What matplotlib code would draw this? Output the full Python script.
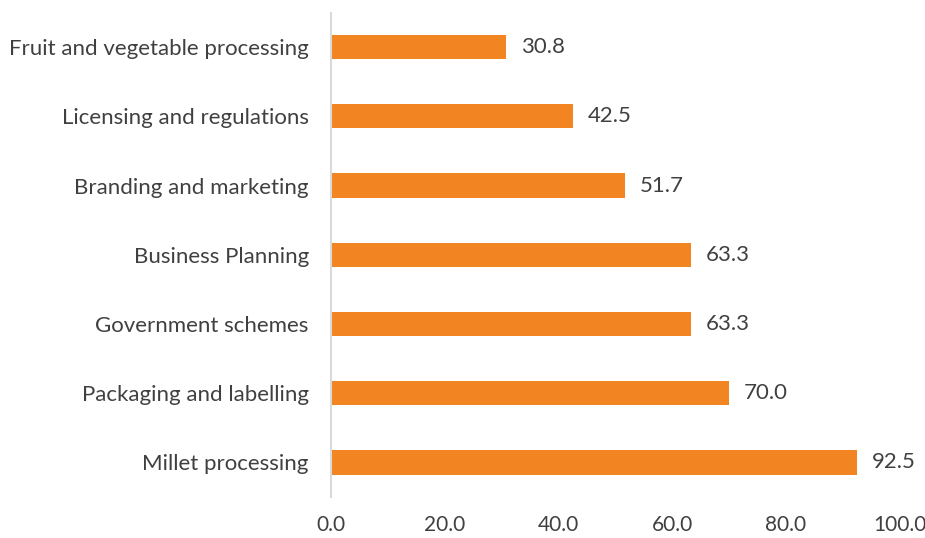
import matplotlib
matplotlib.use("Agg")
import matplotlib.pyplot as plt

categories = [
    "Fruit and vegetable processing",
    "Licensing and regulations",
    "Branding and marketing",
    "Business Planning",
    "Government schemes",
    "Packaging and labelling",
    "Millet processing",
]
values = [30.8, 42.5, 51.7, 63.3, 63.3, 70.0, 92.5]
xticks = [0, 20, 40, 60, 80, 100]

text_color = "#404040"
bar_color = "#F28422"

plt.rcParams["font.family"] = ["Lato", "DejaVu Sans"]

fig = plt.figure(figsize=(9.25, 5.38), dpi=100)
ax = fig.add_axes([331 / 925, 1 - 497 / 538, (899.6 - 331) / 925, (497 - 12.5) / 538])

pos = list(range(len(categories)))
ax.barh(pos, values, height=0.35, color=bar_color)
ax.set_ylim(len(categories) - 0.5, -0.5)
ax.set_xlim(0, 100)
ax.set_yticks(pos)
ax.set_yticklabels(categories, fontsize=16, color=text_color)
ax.set_xticks(xticks)
ax.set_xticklabels([f"{t:.1f}" for t in xticks], fontsize=15, color=text_color)
ax.tick_params(axis="both", length=0)
ax.tick_params(axis="y", pad=16)
ax.tick_params(axis="x", pad=13)

for p, v in zip(pos, values):
    ax.text(v + 2.6, p, f"{v:.1f}", va="center", ha="left", fontsize=16, color=text_color)

for s in ["top", "right", "bottom"]:
    ax.spines[s].set_visible(False)
ax.spines["left"].set_color("#D9D9D9")
ax.spines["left"].set_linewidth(1.5)

fig.savefig("out.png", dpi=100)
